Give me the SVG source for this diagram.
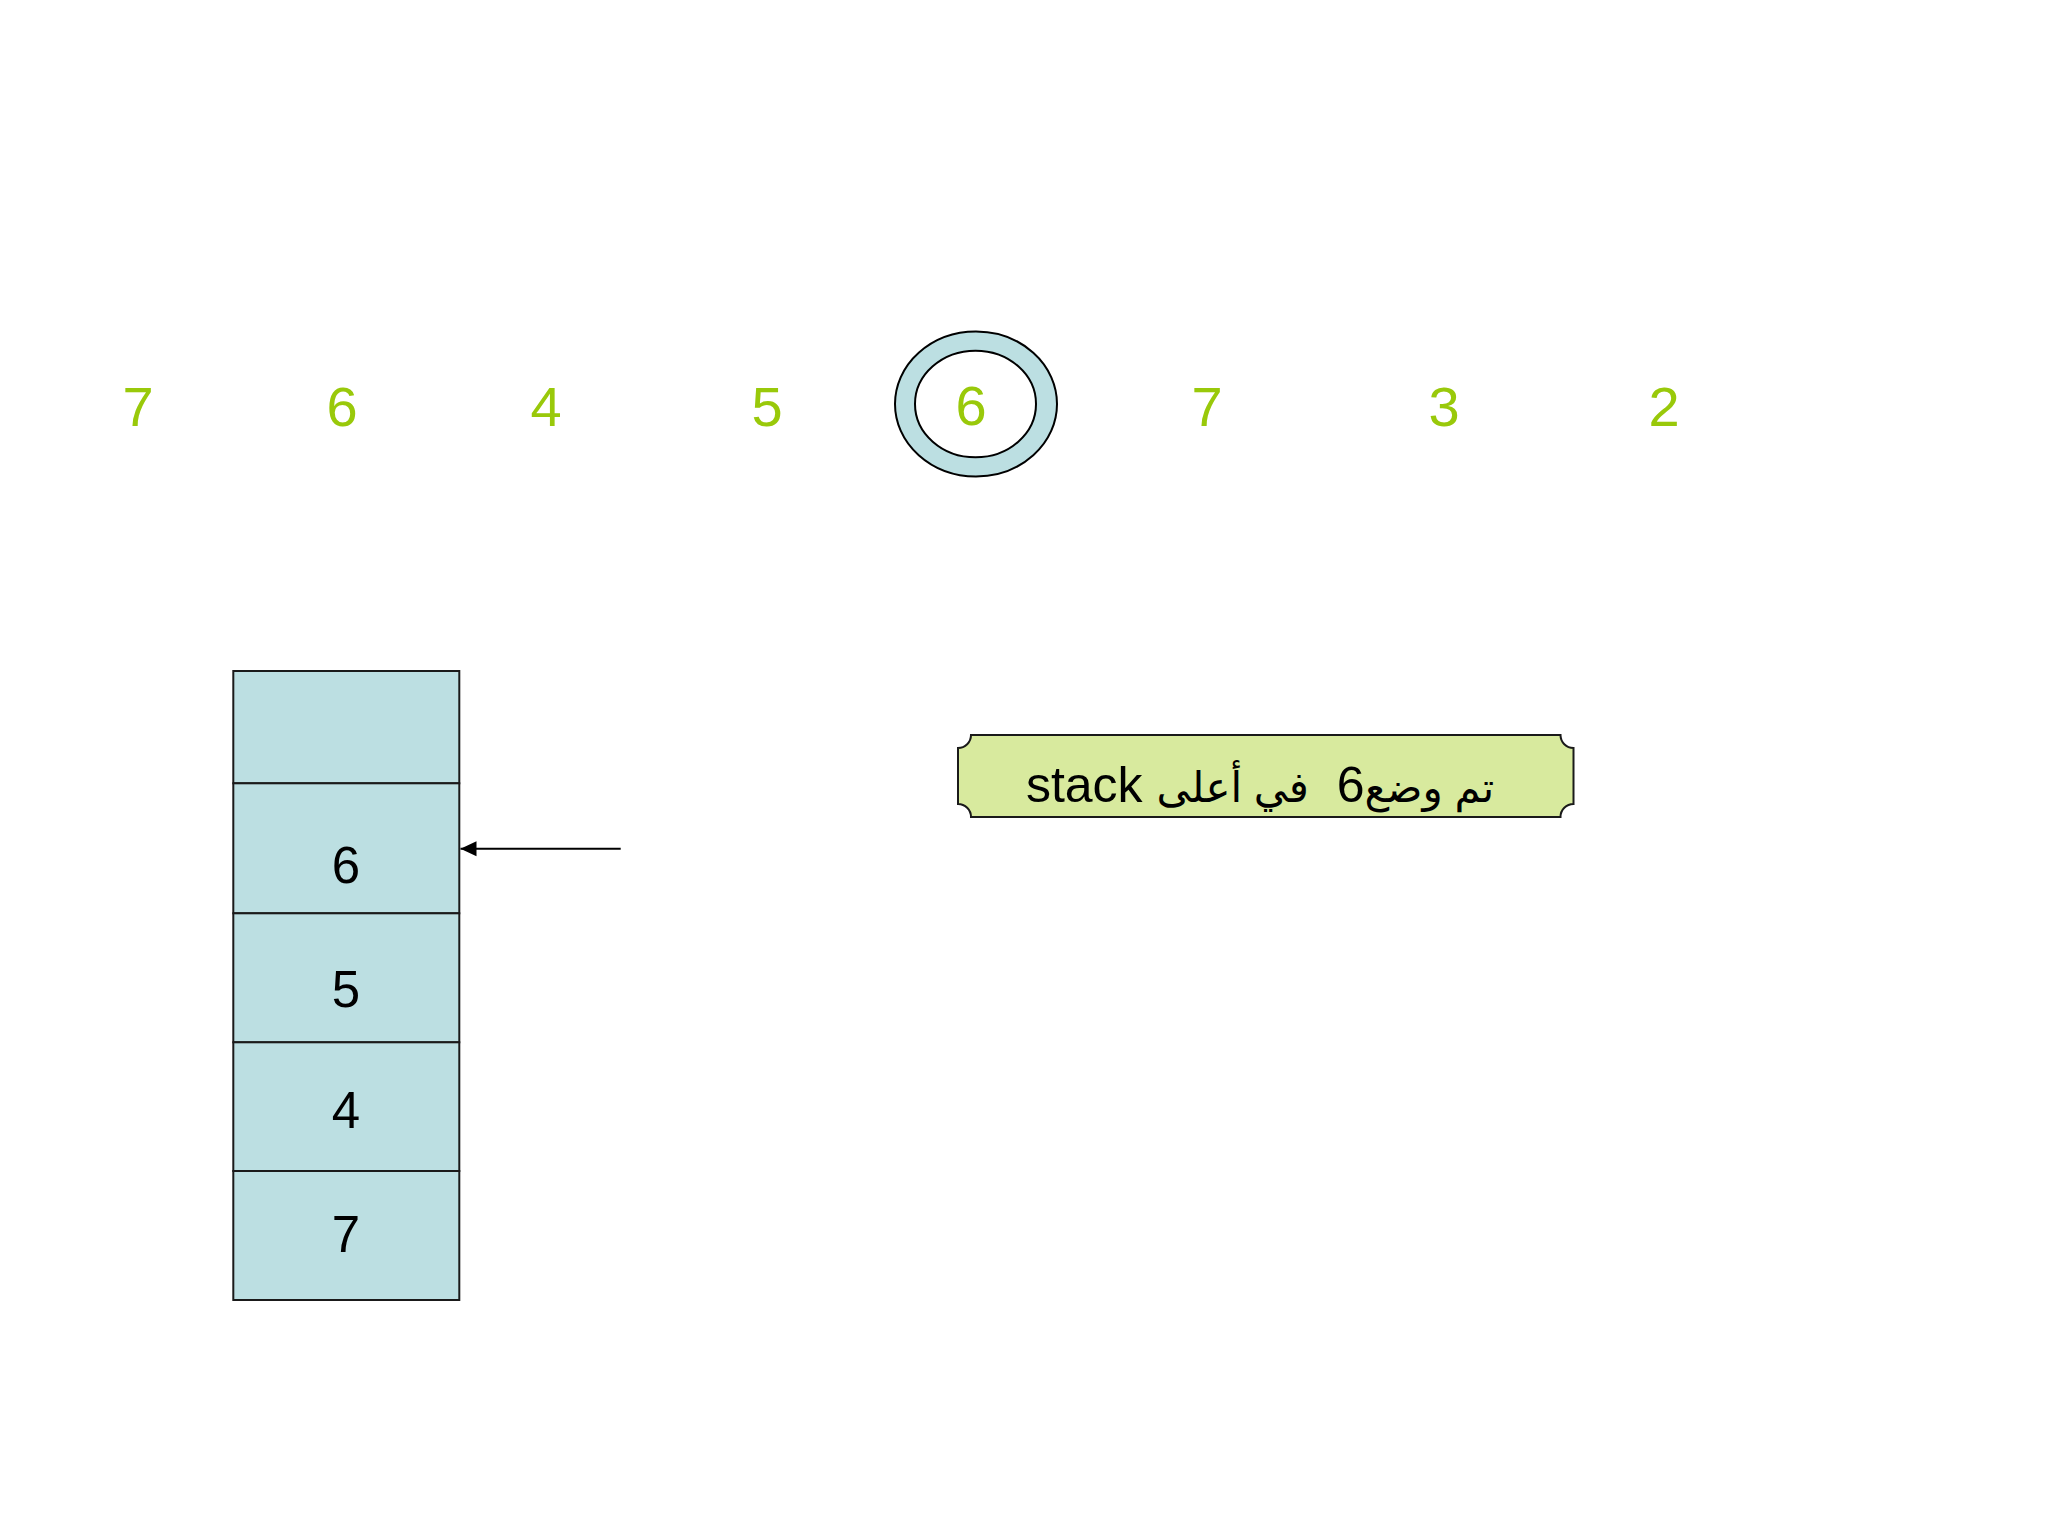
<svg xmlns="http://www.w3.org/2000/svg" width="2048" height="1536" viewBox="0 0 2048 1536">
  <style>
    .seq { font-family: "Liberation Sans", Arial, sans-serif; font-size: 56px; fill: #99C90A; text-anchor: middle; }
    .cell { fill: #BCDFE2; stroke: #1a1a1a; stroke-width: 2; }
    .val { font-family: "Liberation Sans", Arial, sans-serif; font-size: 51px; fill: #000; text-anchor: middle; }
    .note { font-family: "Liberation Sans", "DejaVu Sans", sans-serif; font-size: 50px; fill: #000; white-space: pre; }
    .ar { font-size: 42px; }
    .conn { stroke: #000; stroke-width: 2; fill: none; }
  </style>
  <defs>
    <marker id="arrow" viewBox="0 0 16 16" refX="16" refY="8" markerWidth="16" markerHeight="16" markerUnits="userSpaceOnUse" orient="auto">
      <path d="M0,0.5 L16,8 L0,15.5 Z" fill="#000"/>
    </marker>
  </defs>
  <rect width="2048" height="1536" fill="#FFFFFF"/>

  <g id="sequence">
    <text class="seq" x="138" y="426">7</text>
    <text class="seq" x="342" y="426">6</text>
    <text class="seq" x="546" y="426">4</text>
    <text class="seq" x="767" y="426">5</text>
    <g id="current">
      <ellipse cx="976" cy="404" rx="81" ry="72.5" fill="#BCDFE2" stroke="#000" stroke-width="2"/>
      <ellipse cx="975.5" cy="404" rx="60.5" ry="53.3" fill="#FFFFFF" stroke="#000" stroke-width="2"/>
      <text class="seq" x="971" y="425">6</text>
    </g>
    <text class="seq" x="1207" y="426">7</text>
    <text class="seq" x="1444" y="426">3</text>
    <text class="seq" x="1664" y="426">2</text>
  </g>

  <g id="stack">
    <g id="cell-top"><rect class="cell" x="233.3" y="671" width="226" height="112.3"/></g>
    <g id="cell-6"><rect class="cell" x="233.3" y="783.3" width="226" height="130"/><text class="val" x="346" y="883">6</text></g>
    <g id="cell-5"><rect class="cell" x="233.3" y="913.3" width="226" height="129"/><text class="val" x="346" y="1007">5</text></g>
    <g id="cell-4"><rect class="cell" x="233.3" y="1042.3" width="226" height="128.7"/><text class="val" x="346" y="1128">4</text></g>
    <g id="cell-7"><rect class="cell" x="233.3" y="1171" width="226" height="129"/><text class="val" x="346" y="1252">7</text></g>
  </g>

  <g id="connectors">
    <line class="conn" x1="620.7" y1="848.7" x2="460.5" y2="848.7" marker-end="url(#arrow)"/>
  </g>

  <g id="callout">
    <path d="M971,735 L1560.5,735 A13,13 0 0 0 1573.5,748 L1573.5,804 A13,13 0 0 0 1560.5,817 L971,817 A13,13 0 0 0 958,804 L958,748 A13,13 0 0 0 971,735 Z" fill="#D8EA9E" stroke="#1a1a1a" stroke-width="2"/>
    <text class="note" x="1260" y="802" text-anchor="middle" direction="rtl" unicode-bidi="embed" xml:space="preserve"><tspan class="ar">تم وضع</tspan>6  <tspan class="ar">في أعلى</tspan> stack</text>
  </g>
</svg>
